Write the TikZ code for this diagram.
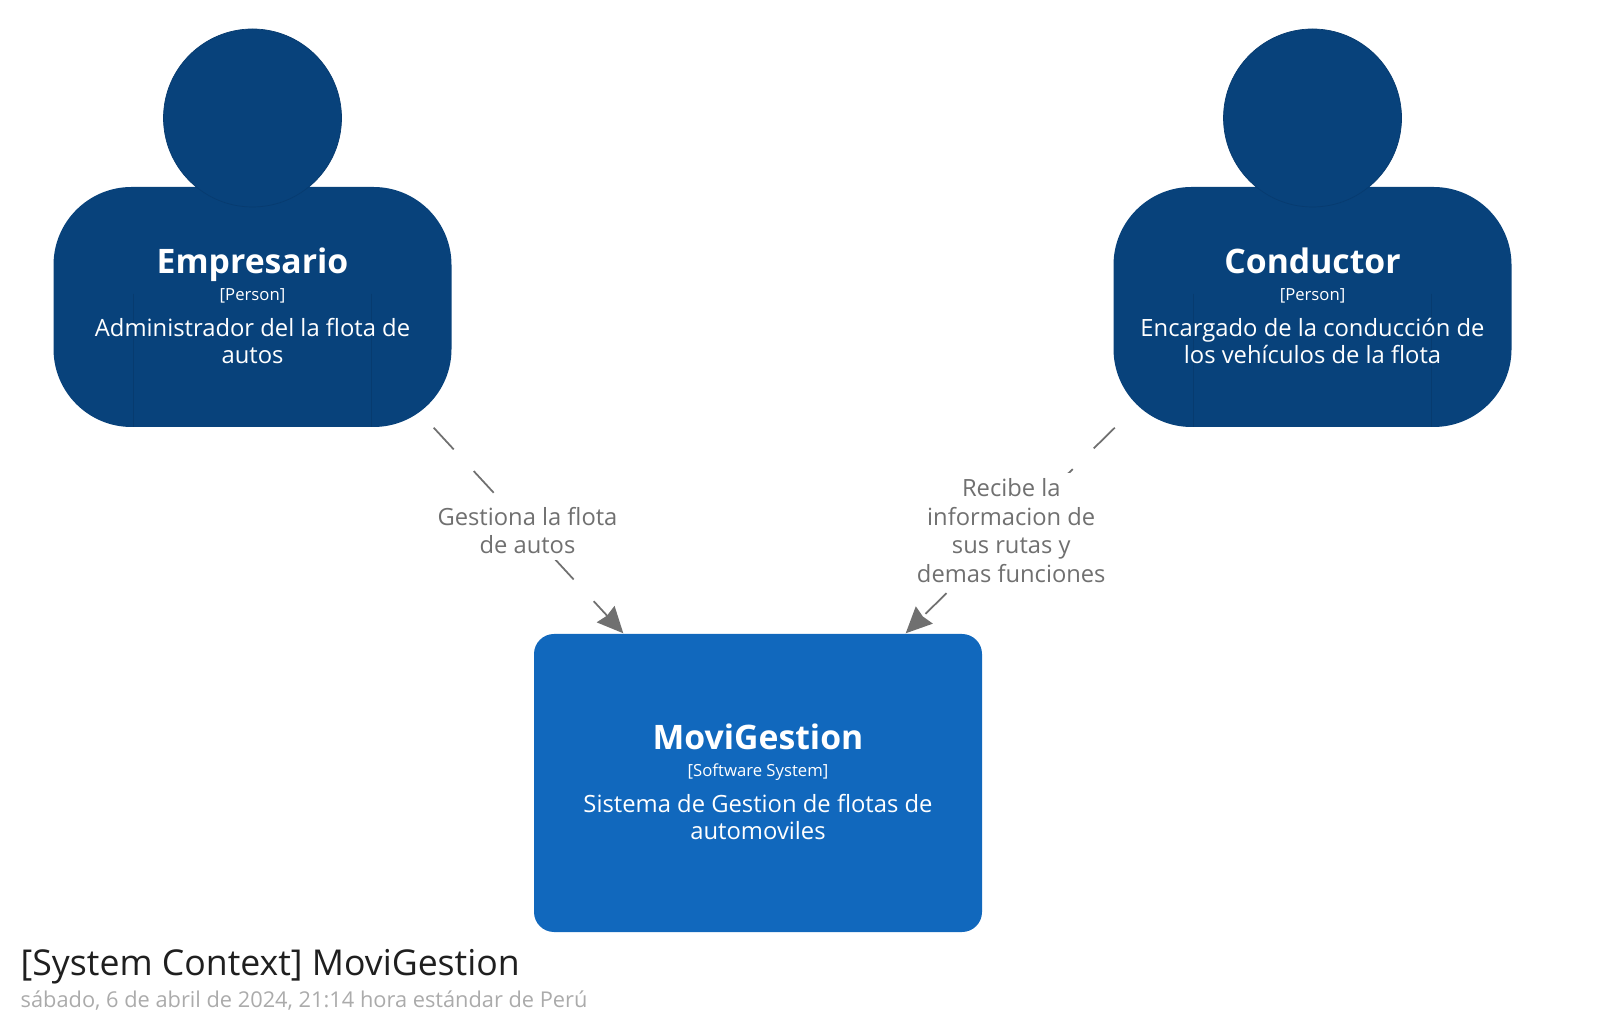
\documentclass[tikz,border=0pt]{standalone}
\usepackage{fontspec}
\setmainfont{Open Sans}
\usetikzlibrary{arrows.meta,positioning}
\definecolor{personblue}{HTML}{08427B}
\definecolor{personedge}{HTML}{073B6F}
\definecolor{systemblue}{HTML}{1168BD}
\definecolor{relgray}{HTML}{707070}
\newcommand{\elemname}{\fontsize{9.6}{7.8}\selectfont\bfseries}
\newcommand{\elemtype}{\fontsize{4.75}{7.8}\selectfont\mdseries}
\newcommand{\elemdesc}{\fontsize{6.77}{7.8}\selectfont\mdseries}
\tikzset{
	head/.style={circle,fill=personblue,draw=personedge,line width=0.2pt,minimum size=1.78cm,inner sep=0pt},
	person/.style={rectangle,rounded corners=0.78cm,fill=personblue,minimum width=3.98cm,minimum height=2.40cm,inner sep=0pt},
	softsystem/.style={rectangle,rounded corners=0.2cm,fill=systemblue,minimum width=4.48cm,minimum height=2.98cm,inner sep=0pt},
	elemtext/.style={inner sep=0pt,yshift=0.012cm,text=white,align=center,font=\fontsize{6.77}{7.8}\selectfont},
	rel/.style={-{Stealth[length=0.26cm,width=0.24cm,inset=0.02cm]},relgray,line width=0.5pt,dash pattern=on 0.295cm off 0.295cm},
	rellabel/.style={midway,fill=white,text=relgray,align=center,inner xsep=0.02cm,inner ysep=0.06cm,font=\fontsize{6.75}{8.1}\selectfont},
	seam/.style={personedge,line width=0.2pt}
}
\begin{document}
\begin{tikzpicture}
	\useasboundingbox (0,0) rectangle (16,10.25);
	% people
	\node[person] (empresario) at (2.525,7.18) {};
	\node[head] (empresariohead) at (2.525,9.07) {};
	\draw[seam] (1.335,7.31) -- (1.335,5.98);
	\draw[seam] (3.715,7.31) -- (3.715,5.98);
	\node[elemtext] (empresariotext) at (empresario) {\elemname Empresario\\\elemtype [Person]\\[2.4pt]\elemdesc Administrador del la flota de\\\elemdesc autos};
	\node[person] (conductor) at (13.125,7.18) {};
	\node[head] (conductorhead) at (13.125,9.07) {};
	\draw[seam] (11.935,7.31) -- (11.935,5.98);
	\draw[seam] (14.315,7.31) -- (14.315,5.98);
	\node[elemtext] (conductortext) at (conductor) {\elemname Conductor\\\elemtype [Person]\\[2.4pt]\elemdesc Encargado de la conducción de\\\elemdesc los vehículos de la flota};
	% system
	\node[softsystem] (movigestion) at (7.58,2.42) {};
	\node[elemtext] (movigestiontext) at (movigestion) {\elemname MoviGestion\\\elemtype [Software System]\\[2.4pt]\elemdesc Sistema de Gestion de flotas de\\\elemdesc automoviles};
	% relations
	\draw[rel] ([xshift=-0.185cm]empresario.south east) -- ([xshift=0.9cm]movigestion.north west) node[rellabel,xshift=-0.01cm] (gestiona) {Gestiona la flota\\de autos};
	\draw[rel] ([xshift=0.02cm]conductor.south west) -- ([xshift=-0.77cm]movigestion.north east) node[rellabel,xshift=0.01cm] (recibe) {Recibe la\\informacion de\\sus rutas y\\demas funciones};
	% title
	\node[anchor=base west,inner sep=0pt,text=black!88,font=\fontsize{10.14}{12}\selectfont] (titulo) at (0.2,0.50) {[System Context] MoviGestion};
	\node[anchor=base west,inner sep=0pt,text=black!33,font=\fontsize{6.2}{8}\selectfont] (fecha) at (0.2,0.18) {sábado, 6 de abril de 2024, 21:14 hora estándar de Perú};
\end{tikzpicture}
\end{document}
